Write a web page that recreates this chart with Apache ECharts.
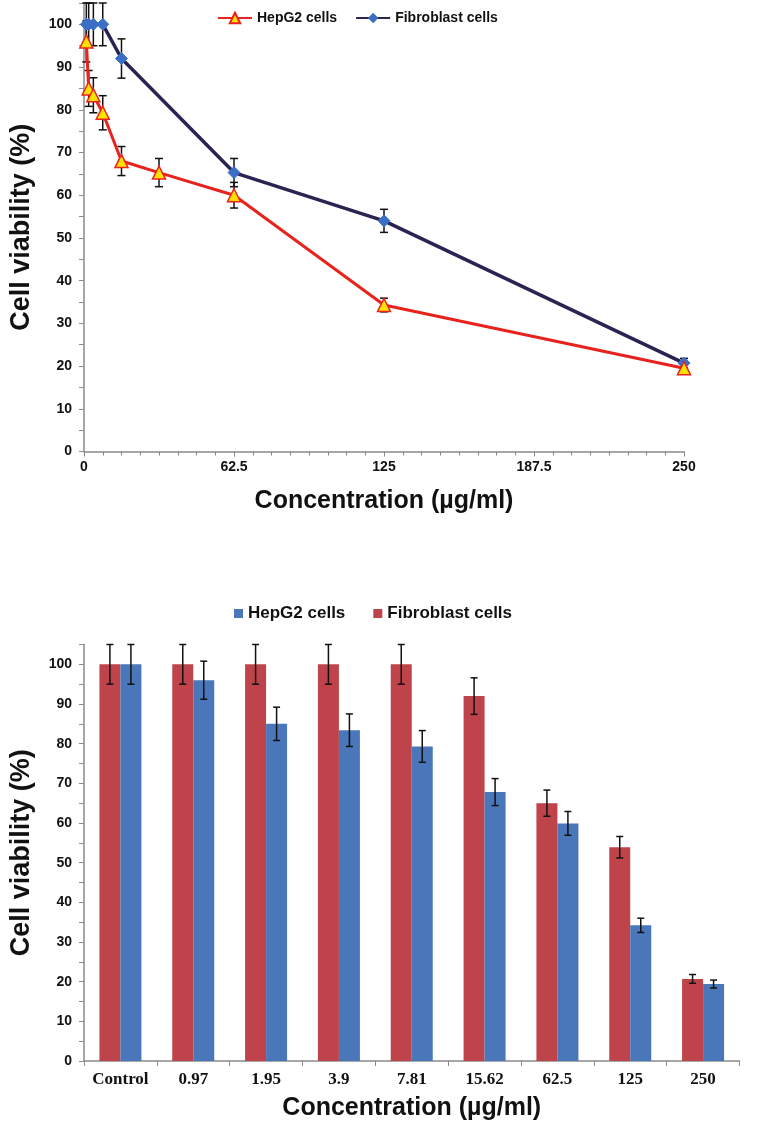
<!DOCTYPE html>
<html><head><meta charset="utf-8">
<script src="https://cdn.jsdelivr.net/npm/echarts@6/dist/echarts.min.js"></script>
<style>
html,body{margin:0;padding:0;background:#fff;}
#c1{position:absolute;left:0;top:0;width:771px;height:560px;}
#c2{position:absolute;left:0;top:560px;width:771px;height:567px;}
</style>
</head><body>
<div id="c1"></div><div id="c2"></div>
<script>
// ---- Top chart (line) data ----
const hepConc = [0.97, 1.95, 3.9, 7.81, 15.62, 31.25, 62.5, 125, 250];
const hepLine = [96, 85, 83.4, 79.3, 68, 65.3, 60, 34.3, 19.5];
const hepLineErr = [4.8, 4.2, 4.1, 4, 3.4, 3.3, 3, 1.6, 1];
const fibConc = [0.97, 1.95, 3.9, 7.81, 15.62, 62.5, 125, 250];
const fibLine = [100, 100, 100, 100, 92, 65.3, 54, 20.7];
const fibLineErr = [5, 5, 5, 5, 4.6, 3.3, 2.7, 1.1];
const xTicksTop = [0, 62.5, 125, 187.5, 250];

// ---- Bottom chart (bar) data ----
const barCats = ['Control', '0.97', '1.95', '3.9', '7.81', '15.62', '62.5', '125', '250'];
const hepBar = [100, 96, 85, 83.4, 79.3, 67.8, 59.9, 34.2, 19.4];
const hepBarErr = [5, 4.8, 4.2, 4.1, 4, 3.4, 3, 1.8, 1];
const fibBar = [100, 100, 100, 100, 100, 92, 65, 53.9, 20.7];
const fibBarErr = [5, 5, 5, 5, 5, 4.6, 3.3, 2.7, 1.1];

const SANS = '"Liberation Sans", Arial, sans-serif';
const SERIF = '"Liberation Serif", "Times New Roman", serif';
const AX = '#8a8a8a';

function errRender(offset, capHalf) {
  return function (params, api) {
    const x = api.value(0), y = api.value(1), e = api.value(2);
    const hi = api.coord([x, y + e]), lo = api.coord([x, y - e]);
    const cx = hi[0] + offset;
    const style = { stroke: '#111', lineWidth: 1.5 };
    return { type: 'group', children: [
      { type: 'line', shape: { x1: cx, y1: hi[1], x2: cx, y2: lo[1] }, style },
      { type: 'line', shape: { x1: cx - capHalf, y1: hi[1], x2: cx + capHalf, y2: hi[1] }, style },
      { type: 'line', shape: { x1: cx - capHalf, y1: lo[1], x2: cx + capHalf, y2: lo[1] }, style }
    ]};
  };
}

function yAxisCfg(nameGap) {
  return {
    type: 'value', min: 0, max: 105, interval: 5,
    name: 'Cell viability (%)', nameLocation: 'middle', nameGap: nameGap,
    nameTextStyle: { fontFamily: SANS, fontWeight: 'bold', fontSize: 27, color: '#111' },
    axisLine: { show: true, lineStyle: { color: AX, width: 1.5 } },
    axisTick: { show: true, length: 5, lineStyle: { color: AX } },
    axisLabel: { margin: 12, fontFamily: SANS, fontWeight: 'bold', fontSize: 14, color: '#111',
      formatter: v => (v % 10 === 0 && v <= 100) ? String(v) : '' },
    splitLine: { show: false }
  };
}

// ---------- Top chart ----------
const c1 = echarts.init(document.getElementById('c1'), null, { renderer: 'canvas' });
c1.setOption({
  animation: false,
  backgroundColor: '#fff',
  legend: {
    data: ['HepG2 cells', 'Fibroblast cells'],
    left: 212, top: 6, itemWidth: 34, itemHeight: 13, itemGap: 18,
    textStyle: { fontFamily: SANS, fontWeight: 'bold', fontSize: 14, color: '#111' }
  },
  grid: { left: 83, right: 87, top: 3, bottom: 108.5, containLabel: false },
  xAxis: {
    type: 'value', min: xTicksTop[0], max: xTicksTop[xTicksTop.length - 1], interval: xTicksTop[1] - xTicksTop[0],
    name: 'Concentration (µg/ml)', nameLocation: 'middle', nameGap: 37,
    nameTextStyle: { fontFamily: SANS, fontWeight: 'bold', fontSize: 25, color: '#111' },
    axisLine: { lineStyle: { color: AX, width: 1.5 } },
    axisTick: { show: true, length: 5, lineStyle: { color: AX } },
    minorTick: { show: true, splitNumber: 8, length: 4, lineStyle: { color: AX } },
    axisLabel: { margin: 9, fontFamily: SANS, fontWeight: 'bold', fontSize: 14, color: '#111' },
    splitLine: { show: false }
  },
  yAxis: yAxisCfg(49),
  series: [
    { type: 'custom', z: 1, renderItem: errRender(0, 4), encode: { x: 0, y: 1 },
      data: fibConc.map((c, i) => [c, fibLine[i], fibLineErr[i]]) },
    { type: 'custom', z: 1, renderItem: errRender(0, 4), encode: { x: 0, y: 1 },
      data: hepConc.map((c, i) => [c, hepLine[i], hepLineErr[i]]) },
    { name: 'Fibroblast cells', type: 'line', z: 3,
      data: fibConc.map((c, i) => [c, fibLine[i]]),
      symbol: 'diamond', symbolSize: 12,
      lineStyle: { color: '#2B2452', width: 3.5 },
      itemStyle: { color: '#3B6FC6', borderColor: '#3B6FC6' } },
    { name: 'HepG2 cells', type: 'line', z: 4,
      data: hepConc.map((c, i) => [c, hepLine[i]]),
      symbol: 'triangle', symbolSize: 13,
      lineStyle: { color: '#E8231E', width: 3 },
      itemStyle: { color: '#FFE100', borderColor: '#E8231E', borderWidth: 1.5 } }
  ]
});

// ---------- Bottom chart ----------
const c2 = echarts.init(document.getElementById('c2'), null, { renderer: 'canvas' });
const BW = 21;
c2.setOption({
  animation: false,
  backgroundColor: '#fff',
  legend: {
    data: ['HepG2 cells', 'Fibroblast cells'],
    left: 229, top: 40, itemWidth: 9, itemHeight: 9, itemGap: 28, icon: 'rect',
    textStyle: { fontFamily: SANS, fontWeight: 'bold', fontSize: 17, color: '#111' }
  },
  grid: { left: 83, right: 31.5, top: 84.5, bottom: 66, containLabel: false },
  xAxis: {
    type: 'category', data: barCats,
    name: 'Concentration (µg/ml)', nameLocation: 'middle', nameGap: 35,
    nameTextStyle: { fontFamily: SANS, fontWeight: 'bold', fontSize: 25, color: '#111' },
    axisLine: { lineStyle: { color: AX, width: 1.5 } },
    axisTick: { show: true, length: 5, alignWithLabel: false, lineStyle: { color: AX } },
    axisLabel: { margin: 10, fontFamily: SERIF, fontWeight: 'bold', fontSize: 17, color: '#111', interval: 0 },
    splitLine: { show: false }
  },
  yAxis: yAxisCfg(49),
  series: [
    { name: 'Fibroblast cells', type: 'bar', data: fibBar, barWidth: BW, barGap: '0%',
      itemStyle: { color: '#BF434A' } },
    { name: 'HepG2 cells', type: 'bar', data: hepBar, barWidth: BW, barGap: '0%',
      itemStyle: { color: '#4A77B9' } },
    { type: 'custom', z: 5, renderItem: errRender(-BW / 2, 3.5), encode: { x: 0, y: 1 },
      data: fibBar.map((v, i) => [i, v, fibBarErr[i]]) },
    { type: 'custom', z: 5, renderItem: errRender(BW / 2, 3.5), encode: { x: 0, y: 1 },
      data: hepBar.map((v, i) => [i, v, hepBarErr[i]]) }
  ]
});
</script>
</body></html>
